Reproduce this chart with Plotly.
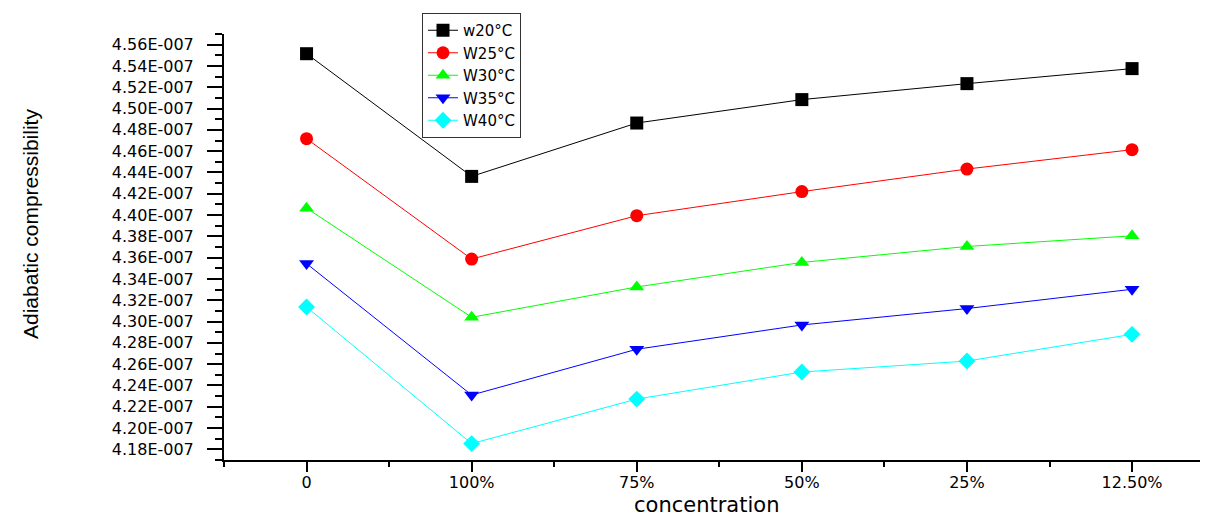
import plotly.graph_objects as go

categories = ["0", "100%", "75%", "50%", "25%", "12.50%"]
x_pos = [0, 1, 2, 3, 4, 5]

w20 = [4.5515e-7, 4.4363e-7, 4.4864e-7, 4.5084e-7, 4.5234e-7, 4.5375e-7]
w25 = [4.4717e-7, 4.3587e-7, 4.3994e-7, 4.4220e-7, 4.4432e-7, 4.4614e-7]
w30 = [4.4065e-7, 4.3040e-7, 4.3325e-7, 4.3555e-7, 4.3705e-7, 4.3805e-7]
w35 = [4.3544e-7, 4.2310e-7, 4.2740e-7, 4.2968e-7, 4.3122e-7, 4.3303e-7]
w40 = [4.3136e-7, 4.1854e-7, 4.2272e-7, 4.2526e-7, 4.2629e-7, 4.2880e-7]

series_names = ["w20°C", "W25°C", "W30°C", "W35°C", "W40°C"]
series_values = [w20, w25, w30, w35, w40]
series_colors = ["#000000", "#ff0000", "#00ff00", "#0000ff", "#00ffff"]
series_symbols = ["square", "circle", "triangle-up", "triangle-down", "diamond"]

y_tick_vals = [4.18e-7 + i * 0.02e-7 for i in range(20)]
y_tick_text = ["4.18E-007", "4.20E-007", "4.22E-007", "4.24E-007", "4.26E-007",
               "4.28E-007", "4.30E-007", "4.32E-007", "4.34E-007", "4.36E-007",
               "4.38E-007", "4.40E-007", "4.42E-007", "4.44E-007", "4.46E-007",
               "4.48E-007", "4.50E-007", "4.52E-007", "4.54E-007", "4.56E-007"]

fig = go.Figure()
for name, vals, col, sym in zip(series_names, series_values, series_colors, series_symbols):
    fig.add_trace(go.Scatter(
        x=x_pos, y=vals, name=name, mode="lines+markers",
        line=dict(color=col, width=1),
        marker=dict(symbol=sym, size=13, color=col, line=dict(width=0)),
    ))

tick_font = dict(family="DejaVu Sans", size=16, color="#000000")

# page body has an 8px margin: layout is offset by (8, 8) in the screenshot
OFF = 8
L, T, R, B = 224 - OFF, 34 - OFF, 0, 516 - 460
W, H = 1208 - OFF, 516 - OFF
PW, PH = W - L - R, H - T - B

def px(xpix):
    return (xpix - OFF - L) / PW

def py(ypix):
    return (H - B - (ypix - OFF)) / PH

fig.update_layout(
    width=W, height=H,
    margin=dict(l=L, r=R, t=T, b=B),
    plot_bgcolor="white", paper_bgcolor="white",
    showlegend=True,
    legend=dict(
        x=px(422), y=py(13), xanchor="left", yanchor="top",
        bgcolor="white", bordercolor="#333333", borderwidth=1,
        font=dict(family="DejaVu Sans", size=15, color="#000000"),
        tracegroupgap=0,
    ),
    xaxis=dict(
        range=[-0.5, 5.46], tickmode="array", tickvals=x_pos, ticktext=categories,
        showgrid=False, zeroline=False, showline=True, linecolor="black", linewidth=2,
        ticks="outside", ticklen=10, tickwidth=1.5, tickcolor="black",
        minor=dict(ticks="outside", ticklen=5, tickwidth=1.5, tickcolor="black",
                   tick0=-0.5, dtick=0.5, showgrid=False),
        tickfont=tick_font, ticklabelstandoff=-3,
    ),
    yaxis=dict(
        range=[4.17e-7, 4.57e-7], tickmode="array", tickvals=y_tick_vals, ticktext=y_tick_text,
        showgrid=False, zeroline=False, showline=True, linecolor="black", linewidth=2,
        ticks="outside", ticklen=15, tickwidth=1.5, tickcolor="black",
        minor=dict(ticks="outside", ticklen=7, tickwidth=1.5, tickcolor="black",
                   tick0=4.17e-7, dtick=0.01e-7, showgrid=False),
        tickfont=tick_font, ticklabelstandoff=10,
    ),
    annotations=[
        dict(text="concentration", xref="paper", yref="paper",
             x=px(706), y=py(505), xanchor="center", yanchor="middle",
             showarrow=False, font=dict(family="DejaVu Sans", size=21, color="#000000")),
        dict(text="Adiabatic compressibility", xref="paper", yref="paper",
             x=px(30), y=py(224), xanchor="center", yanchor="middle",
             textangle=-90, showarrow=False,
             font=dict(family="Liberation Sans", size=21, color="#000000")),
    ],
)

fig.write_html("out.html")
